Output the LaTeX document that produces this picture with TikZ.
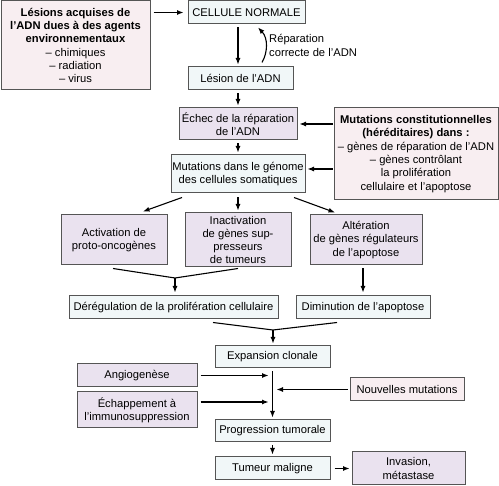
\documentclass[tikz,border=0pt]{standalone}
\usepackage{fontspec}
\setmainfont{Liberation Sans}
\usetikzlibrary{arrows.meta,calc}
\definecolor{fpink}{RGB}{248,238,241}
\definecolor{fblue}{RGB}{241,247,248}
\definecolor{flav}{RGB}{234,226,239}
\definecolor{bord}{RGB}{85,85,85}
\begin{document}
\begin{tikzpicture}[x=1pt,y=-1pt,
  font=\fontsize{11.2}{13.3}\selectfont,
  box/.style={draw=bord,line width=1pt,inner sep=0pt,align=center,anchor=center},
  pinkbox/.style={box,fill=fpink},
  bluebox/.style={box,fill=fblue},
  lavbox/.style={box,fill=flav},
  arr/.style={line width=1.1pt,-{Latex[length=6.5pt,width=5pt]}},
  ln/.style={line width=1.1pt}]
\useasboundingbox (0,0) rectangle (499,486);

\node[pinkbox,minimum width=149pt,minimum height=89pt] (lesacq) at (75.5,45.5)
  {\textbf{Lésions acquises de}\\\textbf{l’ADN dues à des agents}\\\textbf{environnementaux}\\– chimiques\\– radiation\\– virus};
\node[bluebox,minimum width=117pt,minimum height=23pt] (cell) at (246.5,12.5) {CELLULE NORMALE};
\node[bluebox,minimum width=105pt,minimum height=23pt] (lesion) at (240.5,78.5) {Lésion de l’ADN};
\node[lavbox,minimum width=118pt,minimum height=32pt] (echec) at (238,124) {Échec de la réparation\\de l’ADN};
\node[pinkbox,minimum width=164pt,minimum height=92pt] (mutconst) at (416,154)
  {\textbf{Mutations constitutionnelles}\\\textbf{(héréditaires) dans :}\\– gènes de réparation de l’ADN\\– gènes contrôlant\\la prolifération\\cellulaire et l’apoptose};
\node[bluebox,minimum width=134pt,minimum height=38pt] (mutgen) at (238,174) {Mutations dans le génome\\des cellules somatiques};
\node[lavbox,minimum width=106pt,minimum height=50pt] (activ) at (114,240) {Activation de\\proto-oncogènes};
\node[lavbox,minimum width=106pt,minimum height=54pt] (inact) at (238,240) {Inactivation\\de gènes sup-\\presseurs\\de tumeurs};
\node[lavbox,minimum width=112pt,minimum height=50pt] (alter) at (366,240) {Altération\\de gènes régulateurs\\de l’apoptose};
\node[bluebox,minimum width=209pt,minimum height=23pt] (dereg) at (173.5,307.5) {Dérégulation de la prolifération cellulaire};
\node[bluebox,minimum width=134pt,minimum height=23pt] (dimin) at (363,307.5) {Diminution de l’apoptose};
\node[bluebox,minimum width=115pt,minimum height=22pt] (expan) at (272.5,357) {Expansion clonale};
\node[lavbox,minimum width=120pt,minimum height=23pt] (angio) at (137,375.5) {Angiogenèse};
\node[lavbox,minimum width=120pt,minimum height=36pt] (echap) at (137,410) {Échappement à\\l’immunosuppression};
\node[pinkbox,minimum width=114pt,minimum height=23pt] (nouv) at (407,389.5) {Nouvelles mutations};
\node[bluebox,minimum width=115pt,minimum height=22pt] (prog) at (272.5,431) {Progression tumorale};
\node[bluebox,minimum width=115pt,minimum height=23pt] (tumeur) at (272.5,468.5) {Tumeur maligne};
\node[lavbox,minimum width=113pt,minimum height=33pt] (invas) at (408.5,468.5) {Invasion,\\métastase};

\node[anchor=west,align=left,inner sep=0pt,font=\fontsize{11.2}{14.5}\selectfont] (replab) at (269,45.5) {Réparation\\correcte de l’ADN};

% top arrows
\draw[arr] ($(lesacq.east |- cell.west)+(3,0)$) -- ($(cell.west)+(-4,0)$);
\draw[arr] ($(cell.south -| echec.north)+(0,3)$) -- ($(lesion.north -| echec.north)+(0,-2)$);
\coordinate (rx) at (262,0);
\coordinate (rx2) at (258,0);
\draw[arr] ($(lesion.north -| rx)+(0,-4)$) .. controls (268,52) and (268,38) .. ($(cell.south -| rx2)+(0,3)$);
\draw[arr] ($(lesion.south -| echec.north)+(0,3)$) -- ($(echec.north)+(0,-2)$);
\draw[arr] ($(echec.south)+(0,3)$) -- ($(mutgen.north)+(0,-2)$);
\draw[arr] ($(mutconst.west |- echec.east)+(-1,0)$) -- ($(echec.east)+(2,0)$);
\draw[arr] ($(mutconst.west |- mutgen.east)+(-1,-5)$) -- ($(mutgen.east)+(2,-5)$);

% split
\draw[arr] ($(mutgen.south)+(-56,4)$) -- ($(activ.north)+(29,-3)$);
\draw[arr] ($(mutgen.south)+(0,4)$) -- ($(inact.north)+(0,-2)$);
\draw[arr] ($(mutgen.south)+(56,4)$) -- ($(alter.north)+(-31,-2)$);

% merge 1
\coordinate (j1) at (175,278);
\draw[ln] ($(activ.south)+(-1,3)$) -- (j1) -- ($(inact.south)+(0,1)$);
\draw[arr] (j1) -- ($(dereg.north)+(1.5,-3)$);
\draw[arr] ($(alter.south -| dimin.north)+(0,3)$) -- ($(dimin.north)+(0,-3)$);

% merge 2
\coordinate (j2) at (273,330);
\draw[ln] ($(dereg.south)+(39.5,3)$) -- (j2) -- ($(dimin.south)+(-26,3)$);
\draw[arr] (j2) -- ($(expan.north)+(0.5,-2)$);

% spine
\draw[arr] ($(expan.south)+(0,3)$) -- ($(prog.north)+(0,-2)$);
\draw[arr] ($(angio.east)+(3,0)$) -- ($(angio.east -| expan.south)+(-4,0)$);
\draw[arr] ($(echap.east)+(3,-8)$) -- ($(echap.east -| expan.south)+(-4,-8)$);
\draw[arr] ($(nouv.west)+(-2,0)$) -- ($(nouv.west -| expan.south)+(4,0)$);
\draw[arr] ($(prog.south)+(0,3)$) -- ($(tumeur.north)+(0,-2)$);
\draw[arr] ($(tumeur.east)+(4,0)$) -- ($(invas.west)+(-2,0)$);
\end{tikzpicture}
\end{document}
